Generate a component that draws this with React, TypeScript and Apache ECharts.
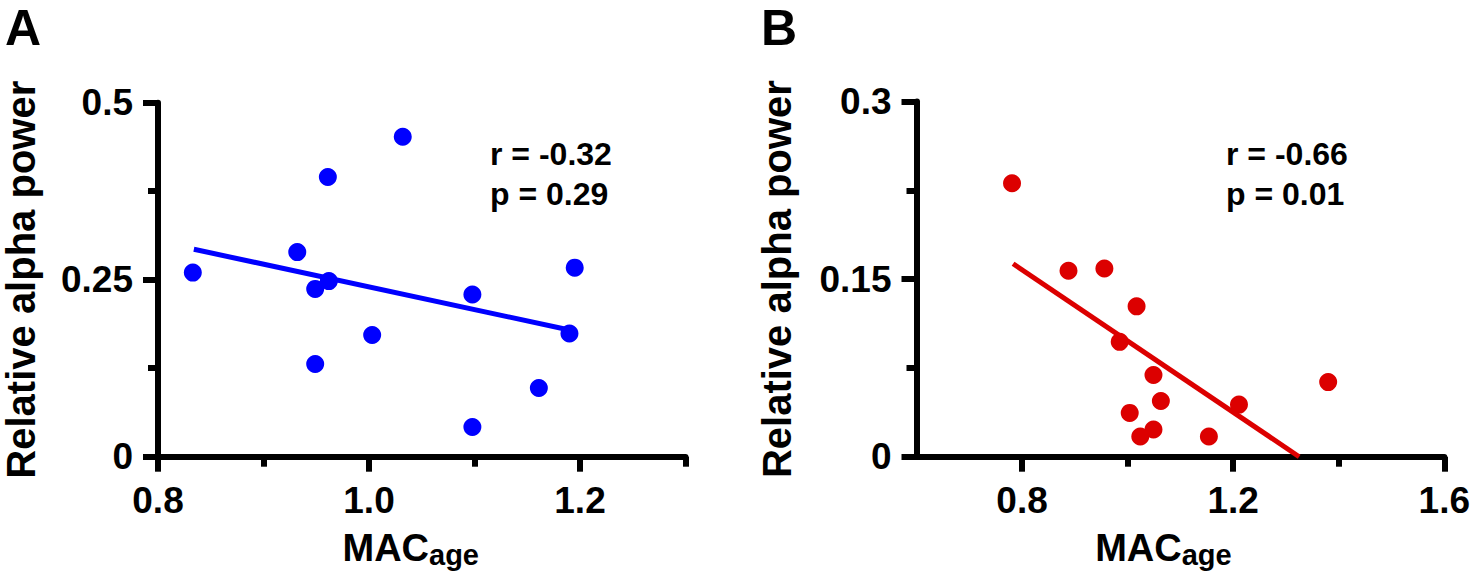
import React, { useEffect, useRef } from "react";
import * as echarts from "echarts";

// Panel A data (MAC_age vs relative alpha power)
const macA = [0.833, 0.932, 0.961, 0.949, 0.962, 1.003, 0.949, 1.032, 1.098, 1.195, 1.19, 1.161, 1.098];
const alphaA = [0.26, 0.289, 0.395, 0.237, 0.248, 0.172, 0.131, 0.452, 0.229, 0.267, 0.174, 0.097, 0.042];
const fitA = [[0.834, 0.293], [1.19, 0.179]];
const statsA = ["r = -0.32", "p = 0.29"];

// Panel B data
const macB = [0.781, 0.888, 0.956, 1.017, 0.985, 1.049, 1.063, 1.004, 1.049, 1.024, 1.154, 1.211, 1.38];
const alphaB = [0.231, 0.157, 0.159, 0.127, 0.097, 0.069, 0.047, 0.037, 0.023, 0.017, 0.017, 0.044, 0.063];
const fitB = [[0.783, 0.163], [1.325, 0]];
const statsB = ["r = -0.66", "p = 0.01"];

// Axis ticks
const xMajorA = [0.8, 1.0, 1.2];
const xMinorA = [0.9, 1.1, 1.3];
const xMajorB = [0.8, 1.2, 1.6];
const xMinorB = [1.0, 1.4];

const FONT = "'Liberation Sans', Arial, Helvetica, sans-serif";
const BLUE = "#0000FF";
const RED = "#DC0000";
const AXIS_W = 6;

function zip(xs: number[], ys: number[]) {
  return xs.map((x, i) => [x, ys[i]]);
}

export default function App() {
  const ref = useRef<HTMLDivElement>(null);
  useEffect(() => {
    if (!ref.current) return;
    const chart = echarts.init(ref.current, undefined, { renderer: "svg" });

    const axisLine = { show: true, lineStyle: { color: "#000", width: AXIS_W } };
    const labelStyle = {
      color: "#000",
      fontSize: 37,
      fontWeight: "bold" as const,
      fontFamily: FONT,
      margin: 25,
    };

    const xName = (padRight: number) => ({
      name: "{m|MAC}{s|age}",
      nameLocation: "middle" as const,
      nameGap: 72,
      nameTextStyle: {
        padding: [0, padRight, 0, 0],
        rich: {
          m: { fontSize: 38, fontWeight: "bold", fontFamily: FONT, color: "#000", verticalAlign: "top" },
          s: { fontSize: 29, fontWeight: "bold", fontFamily: FONT, color: "#000", verticalAlign: "top", padding: [12, 0, 0, 0] },
        },
      },
    });

    const yName = (gap: number) => ({
      name: "Relative alpha power",
      nameLocation: "middle" as const,
      nameRotate: 90,
      nameGap: gap,
      nameTextStyle: { fontSize: 40, fontWeight: "bold", fontFamily: FONT, color: "#000" },
    });

    const minorXAxis = (gridIndex: number, min: number, max: number, vals: number[]) => ({
      type: "value",
      gridIndex,
      min,
      max,
      position: "bottom",
      axisLine: { show: false },
      axisLabel: { show: false },
      splitLine: { show: false },
      axisTick: { show: true, length: 10, lineStyle: { color: "#000", width: AXIS_W }, customValues: vals },
    });

    const option: any = {
      animation: false,
      backgroundColor: "#fff",
      grid: [
        { left: 156.5, top: 102.7, width: 529, height: 354, containLabel: false },
        { left: 916.5, top: 101.5, width: 532.2, height: 355.2, containLabel: false },
      ],
      xAxis: [
        {
          type: "value",
          gridIndex: 0,
          min: 0.8,
          max: 1.3,
          ...xName(22),
          axisLine,
          splitLine: { show: false },
          axisTick: { show: true, length: 15, lineStyle: { color: "#000", width: AXIS_W }, customValues: xMajorA },
          axisLabel: { ...labelStyle, customValues: xMajorA, formatter: (v: number) => v.toFixed(1) },
        },
        minorXAxis(0, 0.8, 1.3, xMinorA),
        {
          type: "value",
          gridIndex: 1,
          min: 0.6,
          max: 1.6,
          ...xName(34),
          axisLine,
          splitLine: { show: false },
          axisTick: { show: true, length: 15, lineStyle: { color: "#000", width: AXIS_W }, customValues: xMajorB },
          axisLabel: { ...labelStyle, customValues: xMajorB, formatter: (v: number) => v.toFixed(1) },
        },
        minorXAxis(1, 0.6, 1.6, xMinorB),
      ],
      yAxis: [
        {
          type: "value",
          gridIndex: 0,
          min: 0,
          max: 0.5,
          interval: 0.25,
          ...yName(117),
          axisLine,
          splitLine: { show: false },
          axisTick: { show: true, length: 15, lineStyle: { color: "#000", width: AXIS_W } },
          minorTick: { show: true, splitNumber: 2, length: 10, lineStyle: { color: "#000", width: AXIS_W } },
          axisLabel: { ...labelStyle, padding: [4, 0, 0, 0] },
        },
        {
          type: "value",
          gridIndex: 1,
          min: 0,
          max: 0.3,
          interval: 0.15,
          ...yName(120),
          axisLine,
          splitLine: { show: false },
          axisTick: { show: true, length: 15, lineStyle: { color: "#000", width: AXIS_W } },
          minorTick: { show: true, splitNumber: 2, length: 10, lineStyle: { color: "#000", width: AXIS_W } },
          axisLabel: { ...labelStyle, padding: [4, 0, 0, 0] },
        },
      ],
      series: [
        {
          type: "line",
          xAxisIndex: 0,
          yAxisIndex: 0,
          data: fitA,
          symbol: "none",
          lineStyle: { color: BLUE, width: 5 },
          z: 2,
        },
        {
          type: "scatter",
          xAxisIndex: 0,
          yAxisIndex: 0,
          data: zip(macA, alphaA),
          symbolSize: 18,
          itemStyle: { color: BLUE, opacity: 1 },
          z: 3,
        },
        {
          type: "line",
          xAxisIndex: 2,
          yAxisIndex: 1,
          data: fitB,
          symbol: "none",
          lineStyle: { color: RED, width: 5 },
          z: 2,
        },
        {
          type: "scatter",
          xAxisIndex: 2,
          yAxisIndex: 1,
          data: zip(macB, alphaB),
          symbolSize: 18,
          itemStyle: { color: RED, opacity: 1 },
          z: 3,
        },
      ],
      graphic: [
        {
          type: "text",
          x: 5,
          y: 3,
          style: { text: "A", fontSize: 50, fontWeight: "bold", fontFamily: FONT, fill: "#000", align: "left", verticalAlign: "top" },
        },
        {
          type: "text",
          x: 761,
          y: 3,
          style: { text: "B", fontSize: 50, fontWeight: "bold", fontFamily: FONT, fill: "#000", align: "left", verticalAlign: "top" },
        },
        {
          type: "text",
          x: 490,
          y: 134,
          style: { text: statsA.join("\n"), fontSize: 32, lineHeight: 40, fontWeight: "bold", fontFamily: FONT, fill: "#000", align: "left", verticalAlign: "top" },
        },
        {
          type: "text",
          x: 1226,
          y: 134,
          style: { text: statsB.join("\n"), fontSize: 32, lineHeight: 40, fontWeight: "bold", fontFamily: FONT, fill: "#000", align: "left", verticalAlign: "top" },
        },
      ],
    };

    chart.setOption(option);
    return () => chart.dispose();
  }, []);

  return (
    <div
      ref={ref}
      style={{ position: "absolute", left: 0, top: 0, width: 1473, height: 581, background: "#fff" }}
    />
  );
}
